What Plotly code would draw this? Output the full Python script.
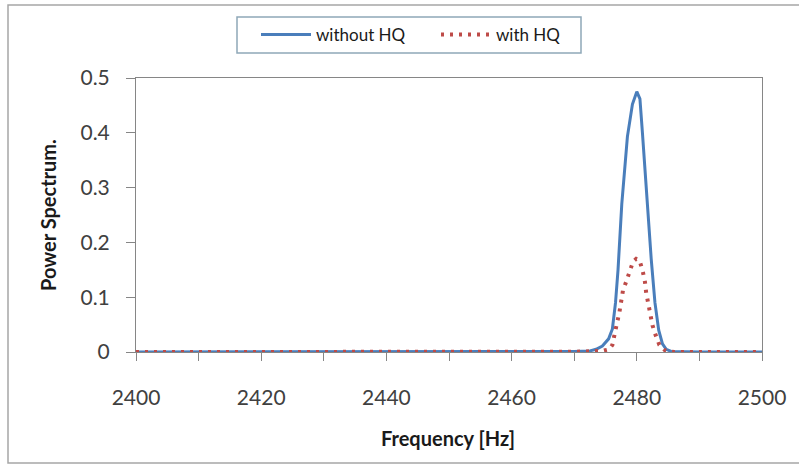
import plotly.graph_objects as go

# --- data ---
freq_without = [2400, 2410, 2420, 2430, 2440, 2450, 2460, 2466, 2470, 2472.5, 2473.5, 2474.5,
                2475.5, 2476.1, 2476.6, 2477.0, 2477.6, 2478.5, 2479.3, 2480.0, 2480.5,
                2480.9, 2481.6, 2482.3, 2482.9, 2483.5, 2484.1, 2484.7, 2485.5, 2488, 2490, 2500]
power_without = [0, 0, 0, 0, 0, 0, 0, 0.0005, 0.001, 0.002, 0.005, 0.011,
                 0.024, 0.042, 0.09, 0.15, 0.27, 0.393, 0.452, 0.475, 0.462,
                 0.40, 0.28, 0.17, 0.09, 0.04, 0.015, 0.005, 0.001, 0, 0, 0]

freq_with = [2400, 2410, 2420, 2430, 2440, 2450, 2460, 2470, 2474.5, 2475.6, 2476.1, 2476.5,
             2476.8, 2477.2, 2477.5, 2477.8, 2478.3, 2478.8, 2479.4, 2479.9, 2480.4,
             2480.9, 2481.3, 2481.5, 2481.8, 2482.1, 2482.5, 2483.0, 2483.6, 2484.6,
             2486, 2490, 2500]
power_with = [0, 0, 0, 0, 0, 0, 0, 0.0005, 0.002, 0.005, 0.013, 0.031,
              0.051, 0.071, 0.092, 0.113, 0.128, 0.147, 0.165, 0.170, 0.168,
              0.150, 0.128, 0.108, 0.089, 0.068, 0.049, 0.031, 0.013, 0.002,
              0, 0, 0]

x_ticks = [2400, 2420, 2440, 2460, 2480, 2500]
y_ticks = [0, 0.1, 0.2, 0.3, 0.4, 0.5]
y_labels = ["0", "0.1", "0.2", "0.3", "0.4", "0.5"]

FONT = "Lato, 'Open Sans', sans-serif"
AXC = "#868686"

fig = go.Figure()
fig.add_trace(go.Scatter(x=freq_without, y=power_without, mode="lines", name="without HQ",
                         line=dict(color="#4a7ebb", width=3)))
fig.add_trace(go.Scatter(x=freq_with, y=power_with, mode="lines", name="with HQ",
                         line=dict(color="#be4b48", width=4, dash="3px,6px")))

L, R, T, B = 136, 37, 78, 115
W, H = 799, 467
pw, ph = W - L - R, H - T - B

def px(x):
    return (x - L) / pw

def py(y):
    return (H - B - y) / ph

fig.update_layout(
    width=W, height=H,
    margin=dict(l=L, r=R, t=T, b=B),
    paper_bgcolor="white", plot_bgcolor="white",
    font=dict(family=FONT, color="#404040"),
    showlegend=True,
    legend=dict(orientation="h", x=px(256), xanchor="left", y=py(35), yanchor="middle",
                borderwidth=0, bgcolor="rgba(0,0,0,0)",
                font=dict(size=17, color="#1a1a1a", family=FONT),
                itemwidth=50, entrywidthmode="pixels", entrywidth=115),
    xaxis=dict(range=[2400, 2500], tickvals=x_ticks, ticks="outside", ticklen=8,
               tickcolor=AXC, showline=True, linecolor=AXC, linewidth=1, mirror=True,
               showgrid=False, zeroline=False, ticklabelstandoff=19,
               tickfont=dict(size=21, color="#404040"),
               minor=dict(dtick=10, ticks="outside", ticklen=8, tickcolor=AXC, showgrid=False)),
    yaxis=dict(range=[0, 0.5], tickvals=y_ticks, ticktext=y_labels, ticks="outside",
               ticklen=9, tickcolor=AXC, showline=True, linecolor=AXC, linewidth=1, mirror=True,
               showgrid=False, zeroline=False, ticklabelstandoff=12,
               tickfont=dict(size=21, color="#404040")),
    shapes=[
        dict(type="rect", xref="paper", yref="paper",
             x0=px(8), x1=px(805), y0=py(463), y1=py(5),
             line=dict(color="#a6a6a6", width=1.5), layer="below"),
        dict(type="rect", xref="paper", yref="paper",
             x0=px(237), x1=px(581), y0=py(53), y1=py(17),
             line=dict(color="#8fa8b8", width=1.5), fillcolor="white", layer="below"),
    ],
    annotations=[
        dict(text="<b>Power Spectrum.</b>", xref="paper", yref="paper",
             x=px(48), y=py(215), xanchor="center", yanchor="middle",
             textangle=-90, showarrow=False,
             font=dict(size=20, color="#1a1a1a", family=FONT)),
        dict(text="<b>Frequency [Hz]</b>", xref="paper", yref="paper",
             x=px(448), y=py(438), xanchor="center", yanchor="middle", showarrow=False,
             font=dict(size=20, color="#1a1a1a", family=FONT)),
    ],
)

fig.write_html("out.html", config={"displayModeBar": False},
               post_script="document.body.style.margin='0';")
